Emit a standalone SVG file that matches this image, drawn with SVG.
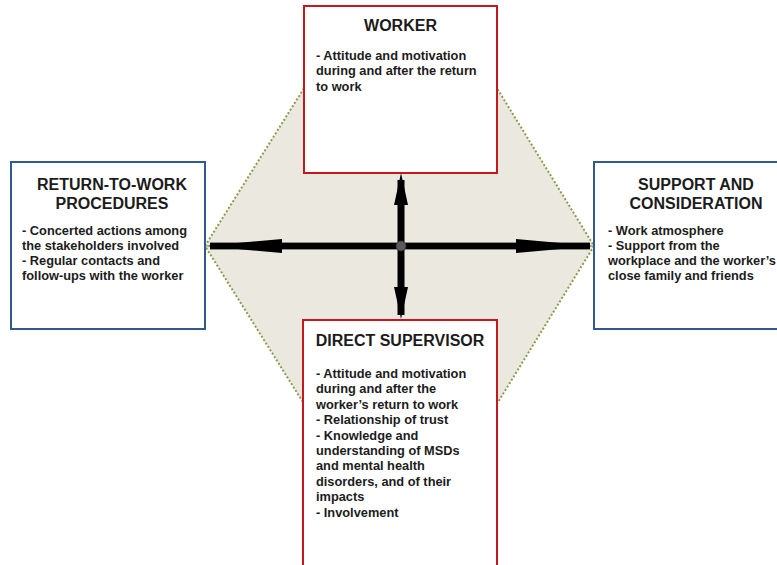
<svg xmlns="http://www.w3.org/2000/svg" width="777" height="565" viewBox="0 0 777 565">
<style>
.t{font-family:"Liberation Sans",Arial,sans-serif;font-weight:bold;fill:#1c1c1c}
.title{font-size:16px;text-anchor:middle}
.body{font-size:12.8px}
.red{fill:#fff;stroke:#c8161e;stroke-width:2}
.blue{fill:#fff;stroke:#2f5a8c;stroke-width:2}
.ar{fill:#000}
</style>
<rect width="777" height="565" fill="#fff"/>
<polygon points="205,246 306,85 495,85 594,246 495,407 306,407" fill="#ebe9df" stroke="#8c9c4c" stroke-width="2" stroke-dasharray="2 2"/>
<g id="connectors">
<rect x="210" y="242.6" width="380" height="6.8" class="ar"/>
<rect x="397.5" y="180" width="7" height="135" class="ar"/>
<polygon points="205,246 282,239 282,253" class="ar"/>
<polygon points="594,246 516,239 516,253" class="ar"/>
<polygon points="401,173 394,205 408,205" class="ar"/>
<polygon points="401,319 394,287 408,287" class="ar"/>
<circle cx="401" cy="246" r="5" fill="#5a5a5a" stroke="#333" stroke-width="0.8"/>
</g>
<g id="worker">
<rect x="304" y="6" width="193" height="167" class="red"/>
<text class="t title" x="400.5" y="31">WORKER</text>
<text class="t body" x="316" y="59.5">- Attitude and motivation</text>
<text class="t body" x="316" y="75">during and after the return</text>
<text class="t body" x="316" y="90.5">to work</text>
</g>
<g id="rtw">
<rect x="11" y="162" width="194" height="167" class="blue"/>
<text class="t title" x="112" y="190">RETURN-TO-WORK</text>
<text class="t title" x="112" y="209">PROCEDURES</text>
<text class="t body" x="22" y="234.5">- Concerted actions among</text>
<text class="t body" x="22" y="249.8">the stakeholders involved</text>
<text class="t body" x="22" y="265.1">- Regular contacts and</text>
<text class="t body" x="22" y="280.4">follow-ups with the worker</text>
</g>
<g id="support">
<rect x="594" y="162" width="194" height="167" class="blue"/>
<text class="t title" x="696" y="190">SUPPORT AND</text>
<text class="t title" x="696" y="209">CONSIDERATION</text>
<text class="t body" x="608" y="234.5">- Work atmosphere</text>
<text class="t body" x="608" y="249.8">- Support from the</text>
<text class="t body" x="608" y="265.1">workplace and the worker’s</text>
<text class="t body" x="608" y="280.4">close family and friends</text>
</g>
<g id="supervisor">
<rect x="303" y="320" width="194" height="260" class="red"/>
<text class="t title" x="400" y="346">DIRECT SUPERVISOR</text>
<text class="t body" x="316" y="378">- Attitude and motivation</text>
<text class="t body" x="316" y="393.4">during and after the</text>
<text class="t body" x="316" y="408.8">worker’s return to work</text>
<text class="t body" x="316" y="424.2">- Relationship of trust</text>
<text class="t body" x="316" y="439.6">- Knowledge and</text>
<text class="t body" x="316" y="455">understanding of MSDs</text>
<text class="t body" x="316" y="470.4">and mental health</text>
<text class="t body" x="316" y="485.8">disorders, and of their</text>
<text class="t body" x="316" y="501.2">impacts</text>
<text class="t body" x="316" y="516.6">- Involvement</text>
</g>
</svg>
